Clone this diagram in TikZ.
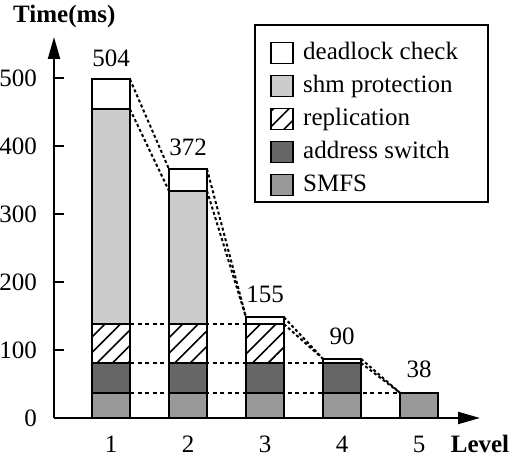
\documentclass[tikz,border=0pt]{standalone}
\usepackage{fontspec}
\setmainfont{Liberation Serif}
\usetikzlibrary{patterns.meta,arrows.meta}
\begin{document}
\begin{tikzpicture}[x=1pt,y=0.68pt,
  font=\fontsize{25}{30}\selectfont,
  barseg/.style={draw=black,line width=2pt},
  dead/.style={barseg,fill=white},
  shm/.style={barseg,fill=black!20},
  repl/.style={barseg,pattern={Lines[angle=45,distance=11pt,line width=1.6pt]}},
  addr/.style={barseg,fill=black!60},
  smfs/.style={barseg,fill=black!40},
  hdash/.style={line width=2pt,dash pattern=on 4pt off 3.5pt},
  sdot/.style={line width=2pt,dash pattern=on 3pt off 2.5pt},
  axis/.style={line width=2pt},
  lab/.style={inner sep=0pt},
]
\useasboundingbox (-54pt,-42pt) rectangle (460pt,418pt);

% dashed horizontal guides
\coordinate (r1) at (76,138); \coordinate (r3) at (192,138);
\coordinate (a1) at (76,81);  \coordinate (a4) at (269,81);
\coordinate (s1) at (76,37);  \coordinate (s5) at (346,37);
\draw[hdash] (r1) -- (r3);
\draw[hdash] (a1) -- (a4);
\draw[hdash] (s1) -- (s5);

% level 1
\draw[smfs] (38,0) rectangle (76,37);
\draw[addr] (38,37) rectangle (76,81);
\draw[repl] (38,81) rectangle (76,138);
\draw[shm]  (38,138) rectangle (76,454);
\draw[dead] (38,454) rectangle (76,498);
% level 2
\draw[smfs] (115,0) rectangle (153,37);
\draw[addr] (115,37) rectangle (153,81);
\draw[repl] (115,81) rectangle (153,138);
\draw[shm]  (115,138) rectangle (153,334);
\draw[dead] (115,334) rectangle (153,366);
% level 3
\draw[smfs] (192,0) rectangle (230,37);
\draw[addr] (192,37) rectangle (230,81);
\draw[repl] (192,81) rectangle (230,138);
\draw[dead] (192,138) rectangle (230,148);
% level 4
\draw[smfs] (269,0) rectangle (307,37);
\draw[addr] (269,37) rectangle (307,81);
\draw[dead] (269,81) rectangle (307,87);
% level 5
\draw[smfs] (346,0) rectangle (384,37);

% corner coordinates
\coordinate (L1t) at (76,498); \coordinate (L1s) at (76,454);
\coordinate (L2tl) at (115,366); \coordinate (L2sl) at (115,334);
\coordinate (L2t) at (153,366); \coordinate (L2s) at (153,334);
\coordinate (L3tl) at (192,148);
\coordinate (L3t) at (230,148); \coordinate (L3r) at (230,138);
\coordinate (L4tl) at (269,87);
\coordinate (L4t) at (307,87); \coordinate (L4a) at (307,81);
\coordinate (L5tl) at (346,37);

\draw[sdot] (L1t) -- (L2tl);
\draw[sdot] (L1s) -- (L2sl);
\draw[sdot] (L2t) -- (L3tl);
\draw[sdot] (L2s) -- (L3tl);
\draw[sdot] (L3t) -- (L4tl);
\draw[sdot] (L3r) -- (L4tl);
\draw[sdot] (L4t) -- (L5tl);
\draw[sdot] (L4a) -- (L5tl);

% totals
\node[lab,anchor=base] (v1) at ([yshift=13pt]57,498) {504};
\node[lab,anchor=base] (v2) at ([yshift=14pt]134,366) {372};
\node[lab,anchor=base] (v3) at ([yshift=15pt]211,148) {155};
\node[lab,anchor=base] (v4) at ([yshift=14pt]288,87) {90};
\node[lab,anchor=base] (v5) at ([yshift=15pt]365,37) {38};

% axes
\coordinate (O) at (0,0);
\coordinate (ytop) at (0pt,381pt);
\coordinate (xend) at (426pt,0pt);
\draw[axis,-{Triangle[length=22pt,width=12pt]}] (O) -- (ytop);
\draw[axis,-{Triangle[length=22pt,width=12pt]}] (O) -- (xend);
\foreach \v in {100,200,300,400,500}{
  \draw[axis] (0,\v) -- (10,\v);
}
\foreach \v in {0,100,200,300,400,500}{
  \node[lab,anchor=east] (t\v) at (-17,\v) {\v};
}
\foreach \i/\x in {1/57,2/134,3/211,4/288,5/365}{
  \node[lab,anchor=base] (x\i) at (\x pt,-35pt) {\i};
}
\node[lab,anchor=base] (xl) at (426pt,-35pt) {\bfseries Level};
\node[lab,anchor=base west] (yl) at (-41pt,395pt) {\bfseries Time(ms)};

% legend
\begin{scope}[y=1pt]
\node[draw,line width=1.8pt,minimum width=233pt,minimum height=177pt,inner sep=0pt,anchor=south west] (legend) at (200,215) {};
\foreach \c/\s/\t [count=\k] in {365/dead/deadlock check,332/shm/shm protection,299/repl/replication,266/addr/address switch,233/smfs/SMFS}{
  \draw[\s,line width=1.8pt] (217,\c-10.5) rectangle (239,\c+10.5);
  \node[lab,anchor=base west] (lg\k) at (249,\c-7) {\t};
}
\end{scope}
\end{tikzpicture}
\end{document}
